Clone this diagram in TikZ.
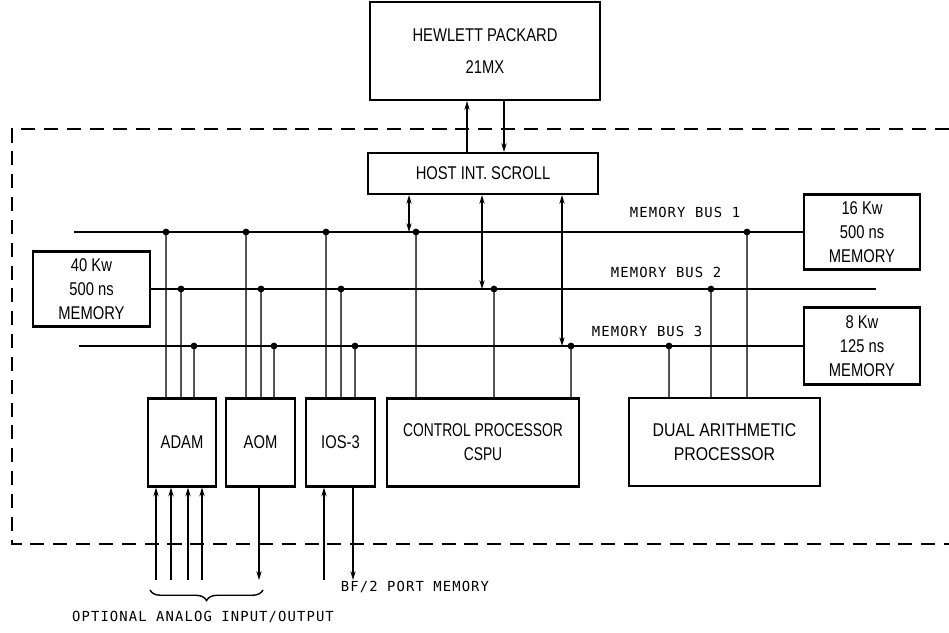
\documentclass[tikz,border=0pt]{standalone}
\usepackage{fontspec}
\setmainfont{Liberation Sans}[FakeStretch=0.8]
\newfontfamily\narrowfont{Liberation Sans}[FakeStretch=0.75]
\newfontfamily\widefont{Liberation Sans}[FakeStretch=0.86]
\newfontfamily\busfont{DejaVu Sans Mono}[LetterSpace=8]
\usetikzlibrary{arrows.meta,decorations.pathreplacing}

\begin{document}
\begin{tikzpicture}[x=0.02cm, y=-0.02cm,
    box/.style={rectangle, draw, line width=1.2pt, align=center, inner sep=2pt, font=\fontsize{10.5}{13.6}\selectfont},
    bus/.style={line width=0.8pt},
    tap/.style={bus, fill=black},
    arrow/.style={bus, -{Stealth[length=5pt,width=3pt]}},
    twoway/.style={bus, {Stealth[length=5pt,width=3pt]}-{Stealth[length=5pt,width=3pt]}},
    dashframe/.style={line width=0.7pt, dash pattern=on 8pt off 5pt},
    lab/.style={font=\busfont\fontsize{7.9}{9}\selectfont}
]
    \useasboundingbox (0,0) rectangle (949,632);

    \node[box, minimum width=4.6cm, minimum height=1.96cm, font=\fontsize{10.5}{18}\selectfont] (hp) at (485,51) {HEWLETT PACKARD\\21MX};
    \node[box, minimum width=4.6cm, minimum height=0.82cm] (host) at (483,173.5) {HOST INT. SCROLL};

    \node[box, minimum width=2.34cm, minimum height=1.5cm] (mem40) at (91.5,289) {40 Kw\\500 ns\\MEMORY};
    \node[box, minimum width=2.32cm, minimum height=1.5cm] (mem16) at (862,232) {16 Kw\\500 ns\\MEMORY};
    \node[box, minimum width=2.32cm, minimum height=1.54cm] (mem8) at (862,346) {8 Kw\\125 ns\\MEMORY};

    \node[box, minimum width=1.36cm, minimum height=1.76cm] (adam) at (182,442.5) {ADAM};
    \node[box, minimum width=1.38cm, minimum height=1.76cm] (aom) at (260.5,442.5) {AOM};
    \node[box, minimum width=1.38cm, minimum height=1.76cm] (ios) at (340.5,442.5) {IOS-3};
    \node[box, minimum width=3.84cm, minimum height=1.76cm, font=\narrowfont\fontsize{10.5}{13.6}\selectfont] (cspu) at (483,442.5) {CONTROL PROCESSOR\\CSPU};
    \node[box, minimum width=3.82cm, minimum height=1.76cm, font=\widefont\fontsize{10.5}{13.6}\selectfont] (dap) at (724.5,442) {DUAL ARITHMETIC\\PROCESSOR};

    \draw[dashframe] (949,129) -- (12,129) -- (12,544) -- (949,544);

    \coordinate (bus1w) at (74,232);
    \coordinate (bus2e) at (876,289);
    \coordinate (bus3w) at (79,346);
    \coordinate (iolow) at (0,580);

    \draw[bus] (bus1w) -- (mem16.west);
    \draw[bus] (mem40.east) -- (bus2e);
    \draw[bus] (bus3w) -- (mem8.west);

    \node[lab] (lbus1) at (685,212) {MEMORY BUS 1};
    \node[lab] (lbus2) at (666,272) {MEMORY BUS 2};
    \node[lab] (lbus3) at (647,331) {MEMORY BUS 3};

    \draw[arrow] (467,0 |- host.north) -- (467,0 |- hp.south);
    \draw[arrow] (504,0 |- hp.south) -- (504,0 |- host.north);

    \draw[twoway] (409,0 |- host.south) -- (409,0 |- bus1w);
    \draw[twoway] (482,0 |- host.south) -- (482,0 |- bus2e);
    \draw[twoway] (562,0 |- host.south) -- (562,0 |- bus3w);

    \draw[tap] (166,0 |- bus1w) circle[radius=1.5pt] -- (166,0 |- adam.north);
    \draw[tap] (181,0 |- bus2e) circle[radius=1.5pt] -- (181,0 |- adam.north);
    \draw[tap] (194,0 |- bus3w) circle[radius=1.5pt] -- (194,0 |- adam.north);
    \draw[tap] (246,0 |- bus1w) circle[radius=1.5pt] -- (246,0 |- aom.north);
    \draw[tap] (261,0 |- bus2e) circle[radius=1.5pt] -- (261,0 |- aom.north);
    \draw[tap] (274,0 |- bus3w) circle[radius=1.5pt] -- (274,0 |- aom.north);
    \draw[tap] (326,0 |- bus1w) circle[radius=1.5pt] -- (326,0 |- ios.north);
    \draw[tap] (341,0 |- bus2e) circle[radius=1.5pt] -- (341,0 |- ios.north);
    \draw[tap] (355,0 |- bus3w) circle[radius=1.5pt] -- (355,0 |- ios.north);
    \draw[tap] (416,0 |- bus1w) circle[radius=1.5pt] -- (416,0 |- cspu.north);
    \draw[tap] (494,0 |- bus2e) circle[radius=1.5pt] -- (494,0 |- cspu.north);
    \draw[tap] (571,0 |- bus3w) circle[radius=1.5pt] -- (571,0 |- cspu.north);
    \draw[tap] (669,0 |- bus3w) circle[radius=1.5pt] -- (669,0 |- dap.north);
    \draw[tap] (711,0 |- bus2e) circle[radius=1.5pt] -- (711,0 |- dap.north);
    \draw[tap] (747,0 |- bus1w) circle[radius=1.5pt] -- (747,0 |- dap.north);

    \draw[arrow] (156,0 |- iolow) -- (156,0 |- adam.south);
    \draw[arrow] (171,0 |- iolow) -- (171,0 |- adam.south);
    \draw[arrow] (188,0 |- iolow) -- (188,0 |- adam.south);
    \draw[arrow] (202,0 |- iolow) -- (202,0 |- adam.south);
    \draw[arrow] (259,0 |- aom.south) -- (259,0 |- iolow);
    \draw[arrow] (324,0 |- iolow) -- (324,0 |- ios.south);
    \draw[arrow] (353,0 |- ios.south) -- (353,0 |- iolow);

    \draw[bus, decorate, decoration={brace, mirror, amplitude=6pt}] (150,590) -- (263,590);
    \node[lab] (optio) at (203,617) {OPTIONAL ANALOG INPUT/OUTPUT};
    \node[lab] (bfport) at (415,587) {BF/2 PORT MEMORY};
\end{tikzpicture}
\end{document}
